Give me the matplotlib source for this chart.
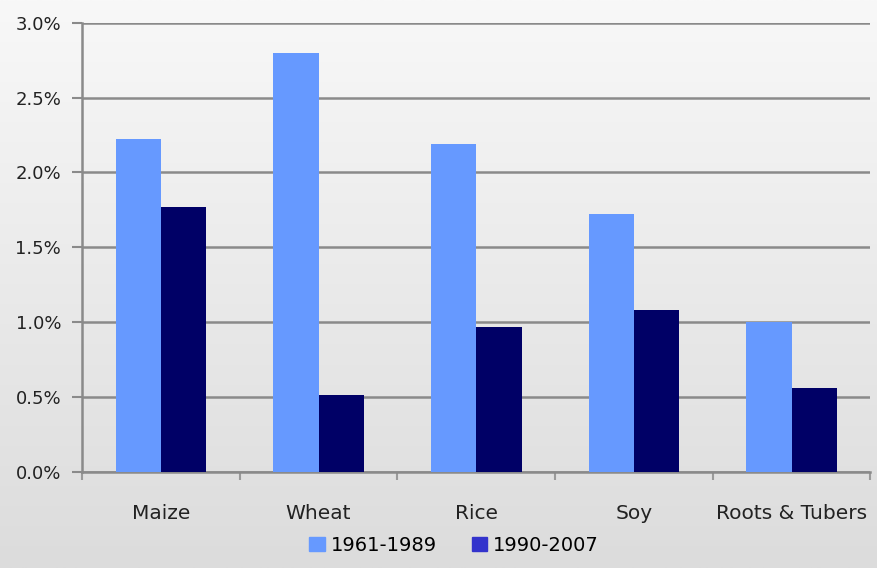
import numpy as np
import matplotlib.pyplot as plt
from matplotlib.patches import Patch
from matplotlib.ticker import FuncFormatter

categories = ['Maize', 'Wheat', 'Rice', 'Soy', 'Roots & Tubers']
growth_1961_1989 = [2.22, 2.80, 2.19, 1.72, 1.00]
growth_1990_2007 = [1.77, 0.51, 0.97, 1.08, 0.56]
series_labels = ['1961-1989', '1990-2007']
y_ticks = [0.0, 0.5, 1.0, 1.5, 2.0, 2.5, 3.0]

light = '#6699ff'
dark = '#000066'
grid_col = '#8a8a8a'

fig = plt.figure(figsize=(8.78, 5.68), dpi=100)

# gradient background
bg = fig.add_axes([0, 0, 1, 1], zorder=-10)
grad = np.linspace(0, 1, 256).reshape(-1, 1)
top_c = np.array([248, 248, 248]) / 255
bot_c = np.array([220, 220, 220]) / 255
img = top_c + (bot_c - top_c) * grad[:, :, None] * np.ones((1, 2, 1))
bg.imshow(img, aspect='auto', extent=[0, 1, 0, 1], origin='upper')
bg.set_axis_off()

ax = fig.add_axes([0.0934, 0.1695, 0.898, 0.7905])
ax.set_facecolor('none')

x = np.arange(len(categories))
w = 0.2875
ax.bar(x - w / 2, growth_1961_1989, w, color=light, zorder=3)
ax.bar(x + w / 2, growth_1990_2007, w, color=dark, zorder=3)

ax.set_xlim(-0.5, len(categories) - 0.5)
ax.set_ylim(0, 3.0)
ax.set_yticks(y_ticks)
ax.yaxis.set_major_formatter(FuncFormatter(lambda v, p: f'{v:.1f}%'))
ax.grid(axis='y', color=grid_col, linewidth=1.8, zorder=1)
ax.set_axisbelow(True)

ax.set_xticks(x)
ax.set_xticklabels(categories, fontsize=14.5, color='#222222')
ax.set_xticks(np.arange(-0.5, len(categories)), minor=True)
ax.tick_params(axis='x', which='major', length=0, pad=23)
ax.tick_params(axis='x', which='minor', length=6, width=1.5, color='#9a9a9a')
ax.tick_params(axis='y', length=7, width=1.5, color=grid_col, labelsize=13,
               labelcolor='#222222', pad=8)

for s in ['top', 'right']:
    ax.spines[s].set_visible(False)
for s in ['left', 'bottom']:
    ax.spines[s].set_color(grid_col)
    ax.spines[s].set_linewidth(1.8)

handles = [Patch(color=light), Patch(color='#3333cc')]
fig.legend(handles, series_labels, loc='center', bbox_to_anchor=(0.517, 0.04),
           ncol=2, frameon=False, fontsize=14, handlelength=0.8,
           handleheight=0.8, handletextpad=0.3, columnspacing=1.8)

fig.savefig('out.png', dpi=100)
